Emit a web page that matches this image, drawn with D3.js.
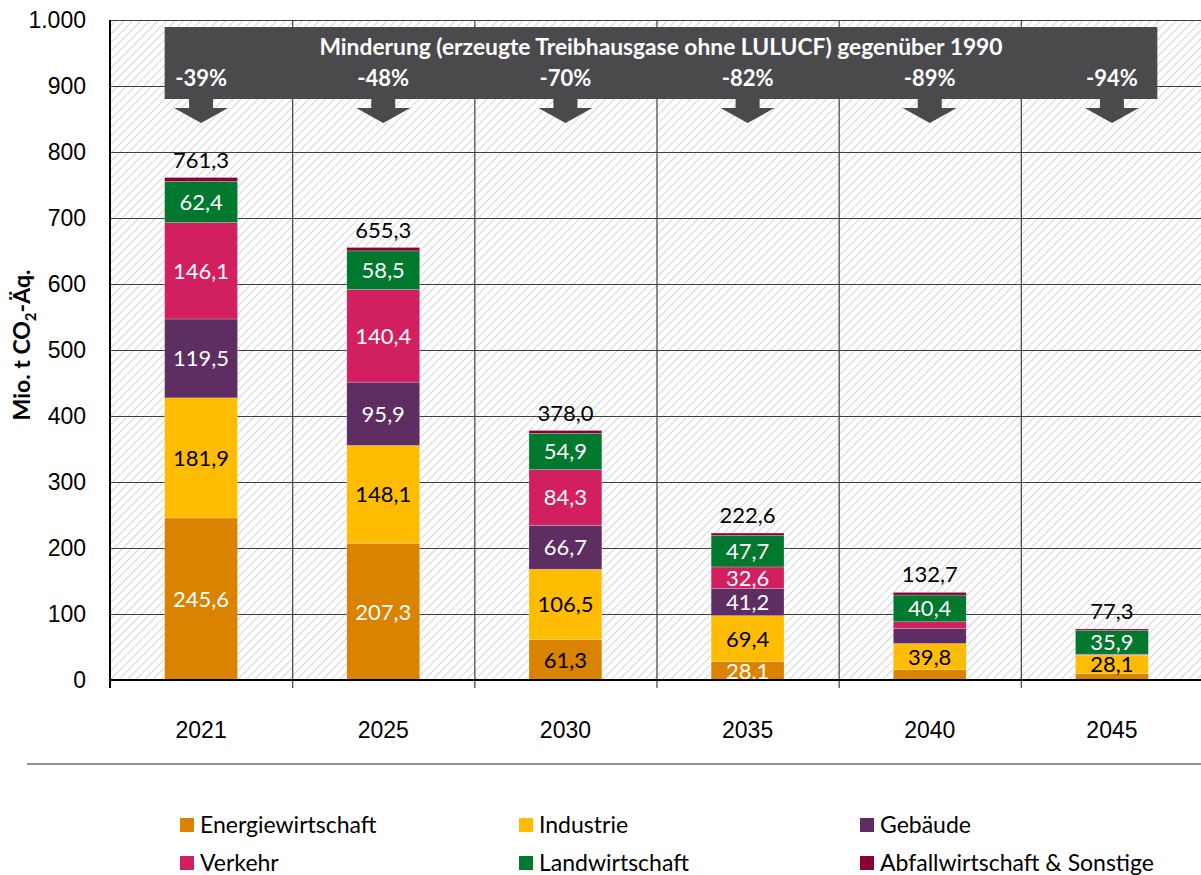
<!DOCTYPE html>
<meta charset='utf-8'>
<style>
body { margin: 0; background: #fff; }
svg { display: block; font-family: Lato, 'Open Sans', sans-serif; }
.tick text { font-size: 23px; fill: #000; }
.seg-label, .total-label { font-size: 22px; }
.legend text { font-size: 23px; fill: #000; }
</style>
<svg width='1201' height='875'></svg>
<script src='https://cdnjs.cloudflare.com/ajax/libs/d3/7.8.5/d3.min.js'></script>
<script>

// chart data
var years = ['2021', '2025', '2030', '2035', '2040', '2045'];
var energie = [245.6, 207.3, 61.3, 28.1, 15.5, 9.5];
var industrie = [181.9, 148.1, 106.5, 69.4, 39.8, 28.1];
var gebaeude = [119.5, 95.9, 66.7, 41.2, 23.0, 0.5];
var verkehr = [146.1, 140.4, 84.3, 32.6, 10.0, 1.0];
var landwirtschaft = [62.4, 58.5, 54.9, 47.7, 40.4, 35.9];
var abfall = [5.8, 5.1, 4.3, 3.6, 4.0, 2.3];
var totals = [761.3, 655.3, 378.0, 222.6, 132.7, 77.3];
var reductions = ['-39%', '-48%', '-70%', '-82%', '-89%', '-94%'];
var yTicks = [0, 100, 200, 300, 400, 500, 600, 700, 800, 900, 1000];
var seriesNames = ['Energiewirtschaft', 'Industrie', 'Gebäude', 'Verkehr', 'Landwirtschaft', 'Abfallwirtschaft & Sonstige'];
var bannerTitle = 'Minderung (erzeugte Treibhausgase ohne LULUCF) gegenüber 1990';

var seriesValues = [energie, industrie, gebaeude, verkehr, landwirtschaft, abfall];
var colors = ['#d98300', '#ffbc00', '#5e2e62', '#d21f5f', '#00782d', '#8a0039'];

var svg = d3.select('svg'),
    plotLeft = 110, plotRight = 1203, plotTop = 20, plotBottom = 680;

// build rows for d3.stack
var rows = years.map(function(yr, i) {
    var r = { year: yr };
    seriesNames.forEach(function(s, j) { r[s] = seriesValues[j][i]; });
    return r;
});
var stacked = d3.stack().keys(seriesNames)(rows);

var x = d3.scaleBand()
    .domain(years)
    .range([plotLeft, plotRight])
    .paddingInner(0.6)
    .paddingOuter(0.3);
var y = d3.scaleLinear()
    .domain([0, 1000])
    .range([plotBottom, plotTop]);

// hatched background
var defs = svg.append('defs');
var pat = defs.append('pattern')
    .attr('id', 'hatch')
    .attr('patternUnits', 'userSpaceOnUse')
    .attr('width', 6).attr('height', 6)
    .attr('patternTransform', 'rotate(45)');
pat.append('rect').attr('width', 6).attr('height', 6).attr('fill', '#fff');
pat.append('line')
    .attr('x1', 0).attr('y1', 0).attr('x2', 0).attr('y2', 6)
    .attr('stroke', '#c9c9c9').attr('stroke-width', 1.6);

svg.append('rect')
    .attr('x', plotLeft).attr('y', plotTop)
    .attr('width', plotRight - plotLeft).attr('height', plotBottom - plotTop)
    .attr('fill', 'url(#hatch)');

// horizontal gridlines
svg.append('g').selectAll('line')
    .data(yTicks.filter(function(d) { return d > 0; }))
    .join('line')
    .attr('x1', plotLeft).attr('x2', plotRight)
    .attr('y1', function(d) { return y(d) + 0.5; })
    .attr('y2', function(d) { return y(d) + 0.5; })
    .attr('stroke', '#404040').attr('stroke-width', 1.2);

// vertical category separators
var step = x.step();
svg.append('g').selectAll('line')
    .data(years.slice(1))
    .join('line')
    .attr('x1', function(d) { return x(d) - step * 0.3 + 0.5; })
    .attr('x2', function(d) { return x(d) - step * 0.3 + 0.5; })
    .attr('y1', plotTop).attr('y2', plotBottom + 8)
    .attr('stroke', '#404040').attr('stroke-width', 1.2);

// y axis labels
var yAxis = d3.axisLeft(y)
    .tickValues(yTicks)
    .tickSize(0)
    .tickPadding(24)
    .tickFormat(function(d) { return d3.format(',')(d).replace(',', '.'); });
svg.append('g')
    .attr('transform', 'translate(' + plotLeft + ',0)')
    .call(yAxis)
    .call(function(g) { g.select('.domain').remove(); });

// stacked bars
var layers = svg.append('g').selectAll('g')
    .data(stacked)
    .join('g')
    .attr('fill', function(d, i) { return colors[i]; });

layers.selectAll('rect')
    .data(function(d) { return d; })
    .join('rect')
    .attr('x', function(d) { return x(d.data.year); })
    .attr('width', x.bandwidth())
    .attr('y', function(d) { return y(d[1]); })
    .attr('height', function(d) { return y(d[0]) - y(d[1]); })
    .attr('stroke', 'rgba(255,255,255,0.35)')
    .attr('stroke-width', 0.6);

// segment labels
stacked.forEach(function(layer, i) {
    if (i === 5) return;
    svg.append('g').selectAll('text')
        .data(layer.filter(function(d) { return d[1] - d[0] >= 25; }))
        .join('text')
        .attr('class', 'seg-label')
        .attr('x', function(d) { return x(d.data.year) + x.bandwidth() / 2; })
        .attr('y', function(d) { return (y(d[0]) + y(d[1])) / 2 + 8; })
        .attr('text-anchor', 'middle')
        .attr('fill', function(d) {
            if (i === 1) return '#000';
            if (i === 0 && d.data.year === '2030') return '#000';
            return '#fff';
        })
        .text(function(d) { return d3.format('.1f')(d[1] - d[0]).replace('.', ','); });
});

// totals above the bars
svg.append('g').selectAll('text')
    .data(totals)
    .join('text')
    .attr('class', 'total-label')
    .attr('x', function(d, i) { return x(years[i]) + x.bandwidth() / 2; })
    .attr('y', function(d) { return y(d) - 10; })
    .attr('text-anchor', 'middle')
    .attr('fill', '#000')
    .text(function(d) { return d3.format('.1f')(d).replace('.', ','); });

// axis frame
svg.append('line')
    .attr('x1', plotLeft).attr('x2', plotRight)
    .attr('y1', plotBottom).attr('y2', plotBottom)
    .attr('stroke', '#000').attr('stroke-width', 2);
svg.append('line')
    .attr('x1', plotLeft).attr('x2', plotLeft)
    .attr('y1', plotTop).attr('y2', plotBottom + 8)
    .attr('stroke', '#000').attr('stroke-width', 2);

// x axis labels
var xAxis = d3.axisBottom(x).tickSize(0).tickPadding(42);
svg.append('g')
    .attr('transform', 'translate(0,' + plotBottom + ')')
    .call(xAxis)
    .call(function(g) { g.select('.domain').remove(); });

// y axis title
svg.append('text')
    .attr('transform', 'translate(30,345) rotate(-90)')
    .attr('text-anchor', 'middle')
    .attr('font-size', 23)
    .attr('font-weight', 'bold')
    .attr('fill', '#000')
    .call(function(t) {
        t.append('tspan').text('Mio. t CO');
        t.append('tspan').attr('font-size', 15).attr('dy', 6).text('2');
        t.append('tspan').attr('dy', -6).text('-Äq.');
    });

// banner with reduction percentages
var bannerX0 = x(years[0]),
    bannerX1 = x(years[years.length - 1]) + x.bandwidth() + 9;
var banner = svg.append('g');
banner.append('rect')
    .attr('x', bannerX0).attr('y', 27)
    .attr('width', bannerX1 - bannerX0).attr('height', 72)
    .attr('fill', '#4a4a4c');
banner.append('text')
    .attr('x', (bannerX0 + bannerX1) / 2).attr('y', 55)
    .attr('text-anchor', 'middle')
    .attr('font-size', 22.8).attr('font-weight', 'bold')
    .attr('fill', '#fff')
    .text(bannerTitle);
banner.selectAll('text.pct')
    .data(reductions)
    .join('text')
    .attr('class', 'pct')
    .attr('x', function(d, i) { return x(years[i]) + x.bandwidth() / 2; })
    .attr('y', 86)
    .attr('text-anchor', 'middle')
    .attr('font-size', 22).attr('font-weight', 'bold')
    .attr('fill', '#fff')
    .text(function(d) { return d; });
banner.selectAll('path')
    .data(years)
    .join('path')
    .attr('fill', '#4a4a4c')
    .attr('d', function(d) {
        var cx = x(d) + x.bandwidth() / 2;
        return 'M' + (cx - 12) + ',98 L' + (cx + 12) + ',98 L' + (cx + 12) + ',108 L' + (cx + 27) + ',108 L' + cx + ',123 L' + (cx - 27) + ',108 L' + (cx - 12) + ',108 Z';
    });

// separator line above the legend
svg.append('line')
    .attr('x1', 27).attr('x2', 1201)
    .attr('y1', 764).attr('y2', 764)
    .attr('stroke', '#6f6f6f').attr('stroke-width', 1.5);

// legend
var legendCols = [180, 519, 860], legendRows = [818, 856];
var legend = svg.append('g').attr('class', 'legend')
    .selectAll('g')
    .data(seriesNames)
    .join('g')
    .attr('transform', function(d, i) {
        return 'translate(' + legendCols[i % 3] + ',' + legendRows[Math.floor(i / 3)] + ')';
    });
legend.append('rect')
    .attr('width', 14).attr('height', 14)
    .attr('fill', function(d, i) { return colors[i]; });
legend.append('text')
    .attr('x', 20).attr('y', 15)
    .text(function(d) { return d; });
</script>
